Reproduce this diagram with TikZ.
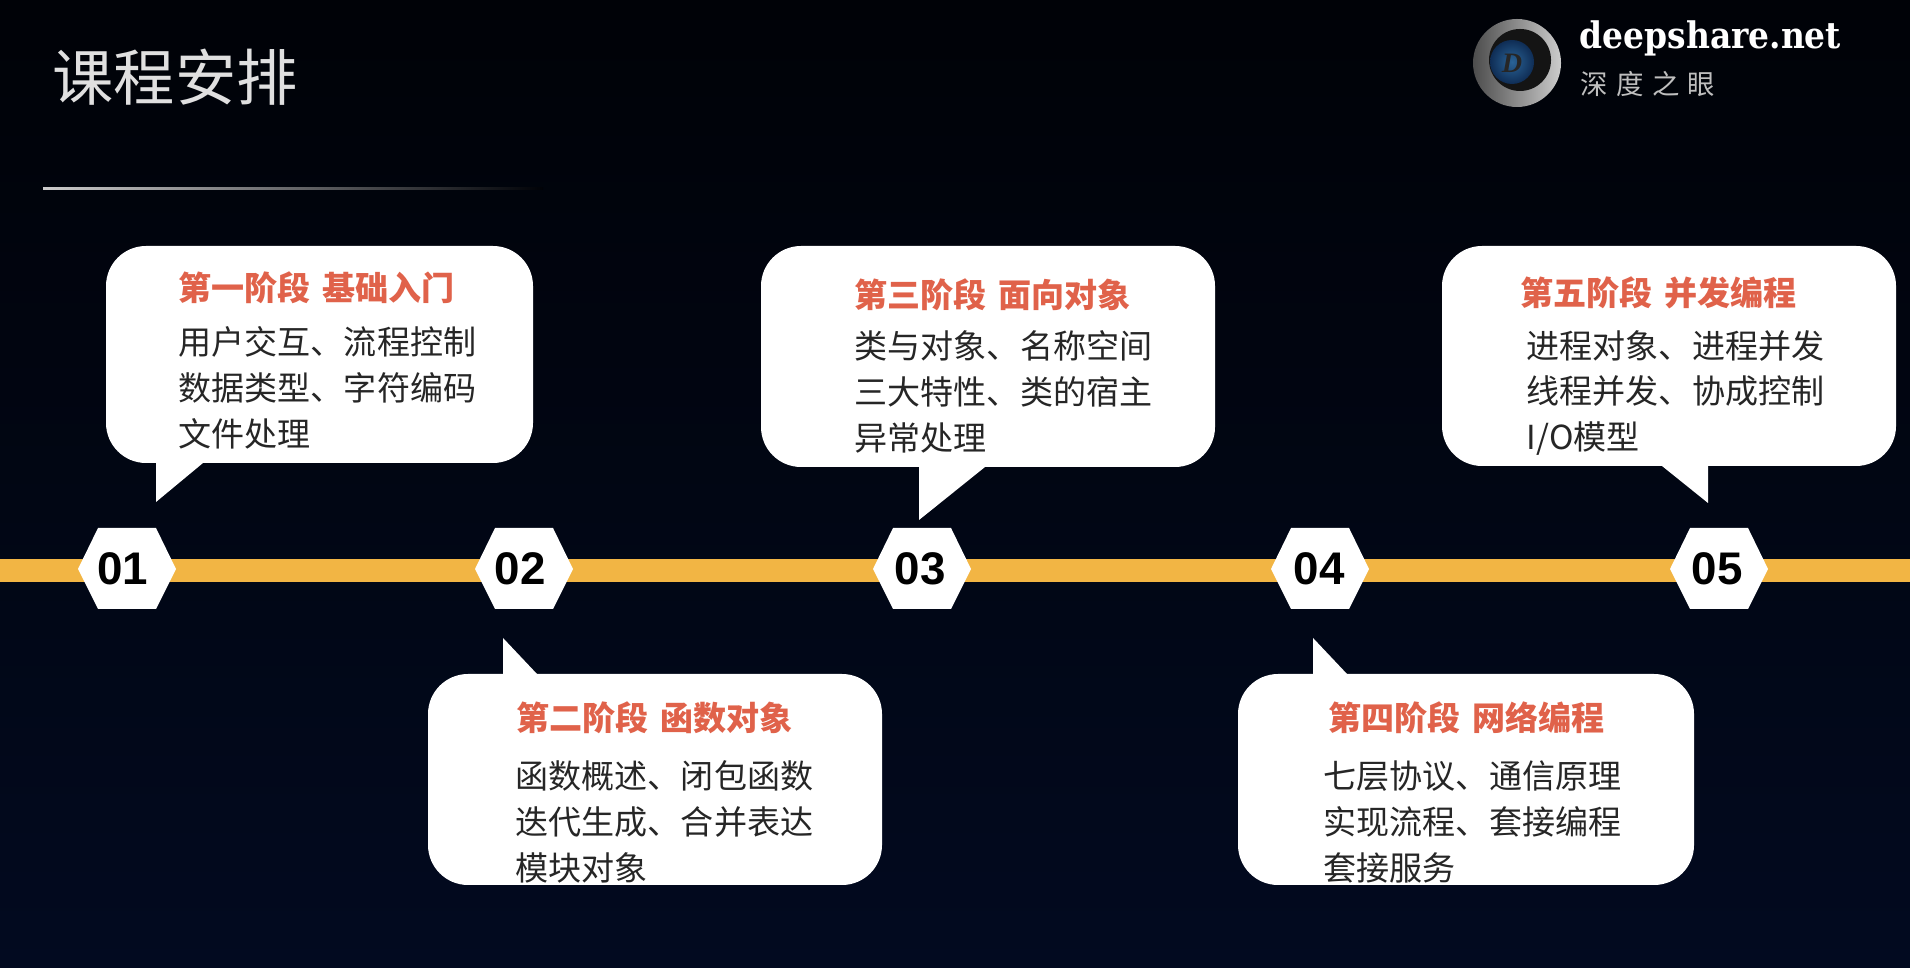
\documentclass[tikz,border=0pt]{standalone}
\usepackage{fontspec}
\setmainfont{Liberation Sans}
\newfontfamily\cjkfont{Noto Sans CJK SC}
\newfontfamily\cjktitle[WordSpace=1.5]{Noto Sans CJK SC}
\newfontfamily\cjkspaced[LetterSpace=30]{Noto Sans CJK SC}
\newfontfamily\logofont{DejaVu Serif Condensed}
\newfontfamily\markfont{Liberation Serif}
\definecolor{bgtop}{HTML}{000207}
\definecolor{bgmid}{HTML}{01081A}
\definecolor{bgbottom}{HTML}{020A20}
\definecolor{bandcol}{HTML}{F2B544}
\definecolor{titlered}{HTML}{E0624A}
\definecolor{bodycol}{HTML}{262626}
\definecolor{eyeblue}{HTML}{2A6396}
\definecolor{eyedark}{HTML}{0F2D55}
\tikzset{
    bubble/.style={fill=white, rounded corners=0.4cm},
    stagetitle/.style={anchor=west, inner sep=0pt, text=titlered, font=\cjktitle\bfseries\fontsize{9.4}{13}\selectfont},
    stagebody/.style={anchor=west, inner sep=0pt, align=left, text=bodycol, font=\cjkfont\fontsize{9.4}{13}\selectfont},
    numlabel/.style={inner sep=0pt, font=\bfseries\fontsize{13}{13}\selectfont},
}
\begin{document}
\begin{tikzpicture}[x=0.01cm,y=-0.01cm]
    % Background
    \useasboundingbox (0,0) rectangle (1910,968);
    \shade[top color=bgtop, middle color=bgmid, bottom color=bgbottom] (0,0) rectangle (1910,968);

    % Heading
    \node[anchor=west, inner sep=0pt, text=white!88!black, font=\cjkfont\fontsize{17.4}{20}\selectfont] (heading) at (52,77) {课程安排};
    \shade[left color=white!80!black, middle color=black!65, right color=bgtop] (43,188) rectangle (543,190);

    % Logo
    \shade[left color=black!70, right color=black!20] (1517,63) circle (44);
    \fill[black!92] (1520,60) circle (31);
    \shade[inner color=eyeblue, outer color=eyedark] (1512,62) circle (22);
    \node[inner sep=0pt, text=black!85, font=\markfont\bfseries\itshape\fontsize{8}{8}\selectfont] (logomark) at (1512,63) {D};
    \node[anchor=west, inner sep=0pt, text=white, font=\logofont\bfseries\fontsize{10.4}{12}\selectfont] (site) at (1579,38) {deepshare.net};
    \node[anchor=west, inner sep=0pt, text=white!75!black, font=\cjkspaced\fontsize{7.8}{10}\selectfont] (brand) at (1580,84) {深度之眼};

    % Timeline
    \fill[bandcol] (0,559) rectangle (1910,582);
    \foreach \x/\t/\dx in {127/01/-4, 524/02/-4, 922/03/-2, 1320/04/-1, 1719/05/-2} {
        \fill[white] (\x-49,569) -- (\x-29,528) -- (\x+29,528) -- (\x+49,569) -- (\x+29,609) -- (\x-29,609) -- cycle;
        \node[numlabel] (num\t) at (\x+\dx,569) {\t};
    }

    % Stage 1
    \fill[bubble] (106,246) rectangle (533,463);
    \fill[white] (156,459) -- (156,502) -- (203,463) -- (203,459) -- cycle;
    \node[stagetitle] (title1) at (178,288) {第一阶段 基础入门};
    \node[stagebody] (body1) at (178,388) {用户交互、流程控制\\数据类型、字符编码\\文件处理};

    % Stage 2
    \fill[bubble] (428,674) rectangle (882,885);
    \fill[white] (503,678) -- (503,638) -- (537,674) -- (537,678) -- cycle;
    \node[stagetitle] (title2) at (516,718) {第二阶段 函数对象};
    \node[stagebody] (body2) at (515,822) {函数概述、闭包函数\\迭代生成、合并表达\\模块对象};

    % Stage 3
    \fill[bubble] (761,246) rectangle (1215,467);
    \fill[white] (919,463) -- (919,520) -- (985,467) -- (985,463) -- cycle;
    \node[stagetitle] (title3) at (854,295) {第三阶段 面向对象};
    \node[stagebody] (body3) at (854,392) {类与对象、名称空间\\三大特性、类的宿主\\异常处理};

    % Stage 4
    \fill[bubble] (1238,674) rectangle (1694,885);
    \fill[white] (1313,678) -- (1313,638) -- (1347,674) -- (1347,678) -- cycle;
    \node[stagetitle] (title4) at (1328,718) {第四阶段 网络编程};
    \node[stagebody] (body4) at (1323,822) {七层协议、通信原理\\实现流程、套接编程\\套接服务};

    % Stage 5
    \fill[bubble] (1442,246) rectangle (1896,466);
    \fill[white] (1657,462) -- (1708,503) -- (1708,462) -- cycle;
    \node[stagetitle] (title5) at (1520,293) {第五阶段 并发编程};
    \node[stagebody] (body5) at (1526,393) {进程对象、进程并发\\线程并发、协成控制\\I/O模型};
\end{tikzpicture}
\end{document}
